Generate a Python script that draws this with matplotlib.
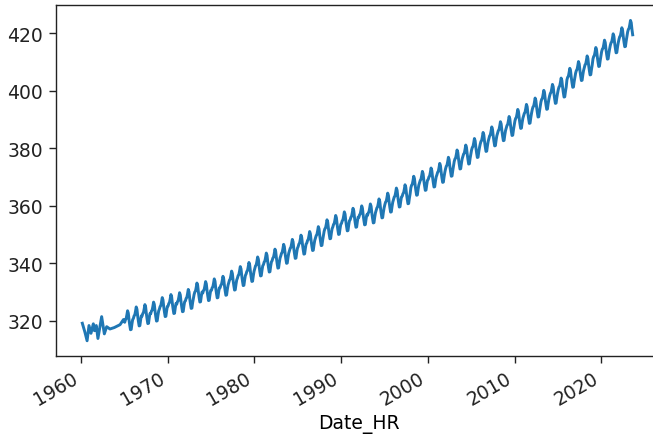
import matplotlib
matplotlib.use("Agg")
import matplotlib.pyplot as plt
import matplotlib.dates as mdates
import datetime as dt

# Early irregular samples (decimal year, ppm)
early_years = [1960.15, 1960.45, 1960.70, 1960.92, 1961.15, 1961.42, 1961.55, 1961.76,
               1961.95, 1962.38, 1962.69, 1962.96, 1963.34, 1963.84, 1964.50, 1964.90]
early_vals = [319.1, 316.0, 313.0, 318.3, 315.6, 318.9, 316.5, 318.3,
              313.8, 321.4, 315.4, 317.9, 317.1, 317.6, 318.6, 320.4]

# Annual mean CO2 (ppm), 1965 - 2023
years = list(range(1965, 2024))
annual_mean = [320.04, 321.37, 322.18, 323.05, 324.62, 325.68, 326.32, 327.46, 329.68, 330.19,
               331.13, 332.03, 333.84, 335.41, 336.84, 338.76, 340.12, 341.48, 343.15, 344.87,
               346.35, 347.61, 349.31, 351.69, 353.20, 354.45, 355.70, 356.54, 357.21, 358.96,
               360.97, 362.74, 363.88, 366.84, 368.54, 369.71, 371.32, 373.45, 375.98, 377.70,
               379.98, 382.09, 384.02, 385.83, 387.64, 390.10, 391.85, 394.06, 396.74, 398.81,
               401.01, 404.41, 406.76, 408.72, 411.65, 414.21, 416.41, 418.53, 421.08]
# Monthly offset from annual mean (Jan..Dec)
month_offset = [-0.6, 0.3, 0.6, 1.9, 3.4, 2.6, 0.3, -1.6, -3.2, -3.1, -1.2, 0.3]
last_month = 8  # data ends Aug 2023


def dec_to_date(y):
    yr = int(y)
    start = dt.datetime(yr, 1, 1)
    end = dt.datetime(yr + 1, 1, 1)
    return start + (end - start) * (y - yr)


dates = [dec_to_date(y) for y in early_years]
vals = list(early_vals)
for yr, m in zip(years, annual_mean):
    for mo in range(1, 13):
        if yr == 2023 and mo > last_month:
            break
        dates.append(dt.datetime(yr, mo, 15))
        vals.append(m + month_offset[mo - 1])

W, H = 653, 439
fig = plt.figure(figsize=(W / 100, H / 100), dpi=100)
left_px, right_px, top_px, bottom_px = 55.7, 662.0, 5.7, 357.0
ax = fig.add_axes([left_px / W, 1 - bottom_px / H, (right_px - left_px) / W, (bottom_px - top_px) / H])

ax.plot(dates, vals, color="#1f77b4", linewidth=2.1)

ax.set_xlim(dec_to_date(1957.08), dec_to_date(2027.0))
ax.set_ylim(307.7, 429.95)
ax.xaxis.set_major_locator(mdates.YearLocator(10))
ax.xaxis.set_major_formatter(mdates.DateFormatter("%Y"))
ax.set_yticks([320, 340, 360, 380, 400, 420])

fs = 13.5
ax.tick_params(labelsize=fs, length=5, width=1.0, pad=4)
for lbl in ax.get_xticklabels():
    lbl.set_rotation(30)
    lbl.set_ha("right")
ax.set_xlabel("Date_HR", fontsize=fs, labelpad=4)
for s in ax.spines.values():
    s.set_linewidth(1.0)
    s.set_color("#222222")
ax.spines["right"].set_visible(False)
ax.tick_params(colors="#222222", labelcolor="#222222")

fig.savefig("out.png", dpi=100)
